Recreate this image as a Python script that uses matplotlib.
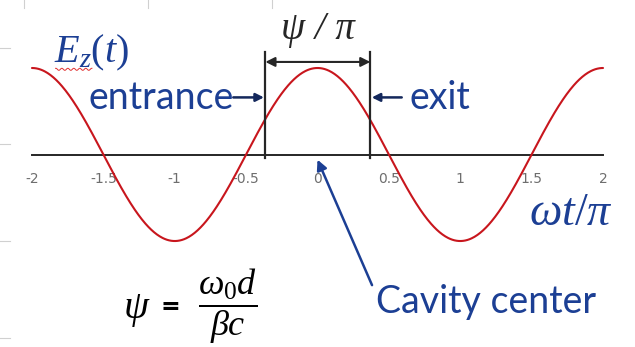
import numpy as np
import matplotlib
matplotlib.use("Agg")
import matplotlib.pyplot as plt
from matplotlib.lines import Line2D

plt.rcParams["mathtext.fontset"] = "custom"
plt.rcParams["mathtext.rm"] = "Liberation Serif"
plt.rcParams["mathtext.it"] = "Liberation Serif:italic"
plt.rcParams["mathtext.bf"] = "Liberation Serif:bold"

# Phase axis (omega t / pi) and the tick values shown along it
tick_values = [-2, -1.5, -1, -0.5, 0, 0.5, 1, 1.5, 2]
tick_labels = ["-2", "-1.5", "-1", "-0.5", "0", "0.5", "1", "1.5", "2"]
phase = np.linspace(-2, 2, 801)
field = np.cos(np.pi * phase)          # E_z(t), normalised amplitude

# Gap edges (in units of omega t / pi) where the particle enters and leaves
entrance_pos = -0.365
exit_pos = 0.37
cavity_center = 0.0

RED = "#C8161D"
BLUE = "#1C3F94"
NAVY = "#14285C"
DARK = "#262626"
TICK_GRAY = "#6E6E6E"

fig = plt.figure(figsize=(6.35, 3.47), dpi=100)
ax = fig.add_axes([0, 0, 1, 1])
ax.set_xlim(-2.224, 2.224)
ax.set_ylim(-2.225, 1.786)

# Field curve
ax.plot(phase, field, color=RED, lw=1.5, solid_capstyle="round", zorder=3)

# Horizontal axis through zero
for side in ("left", "right", "top"):
    ax.spines[side].set_visible(False)
ax.spines["bottom"].set_position(("data", 0))
ax.spines["bottom"].set_bounds(tick_values[0], tick_values[-1])
ax.spines["bottom"].set_linewidth(1.4)
ax.spines["bottom"].set_color(DARK)
ax.set_xticks(tick_values)
ax.set_xticklabels(tick_labels)
ax.tick_params(axis="x", length=0, pad=12.5, labelsize=10, labelcolor=TICK_GRAY)
ax.set_yticks([])

# Gap boundaries
for xe in (entrance_pos, exit_pos):
    ax.plot([xe, xe], [-0.04, 1.185], color=DARK, lw=1.6, zorder=4)

# Gap width arrow and label
ax.annotate("", xy=(entrance_pos, 1.07), xytext=(exit_pos, 1.07),
            arrowprops=dict(arrowstyle="<|-|>", color=DARK, lw=1.5,
                            mutation_scale=14, shrinkA=0, shrinkB=0))
ax.text((entrance_pos + exit_pos) / 2, 1.45, "ψ / π", fontsize=28,
        family="Liberation Serif", style="italic", color=DARK,
        ha="center", va="center")

# Entrance / exit labels
ax.text(-0.585, 0.65, "entrance", fontsize=27, family="Lato", color=BLUE,
        ha="right", va="center")
ax.annotate("", xy=(entrance_pos - 0.01, 0.66), xytext=(-0.59, 0.66),
            arrowprops=dict(arrowstyle="-|>", color=NAVY, lw=1.8,
                            mutation_scale=12, shrinkA=0, shrinkB=0))
ax.text(0.645, 0.65, "exit", fontsize=27, family="Lato", color=BLUE,
        ha="left", va="center")
ax.annotate("", xy=(exit_pos + 0.01, 0.66), xytext=(0.59, 0.66),
            arrowprops=dict(arrowstyle="-|>", color=NAVY, lw=1.8,
                            mutation_scale=12, shrinkA=0, shrinkB=0))

# Field label with spell-check style squiggle
ax.text(-1.845, 1.17, r"$E_z(t)$", fontsize=29, color=BLUE,
        ha="left", va="center")
sq_x = np.linspace(-1.835, -1.58, 60)
ax.plot(sq_x, 0.985 + 0.012 * np.sin(sq_x * 150), color="#E03030", lw=0.7)

# Axis label
ax.text(1.776, -0.676, r"$\omega t/\pi$", fontsize=33, color=BLUE,
        ha="center", va="center")

# Cavity centre pointer
ax.text(1.18, -1.705, "Cavity center", fontsize=27, family="Lato", color=BLUE,
        ha="center", va="center")
ax.annotate("", xy=(cavity_center, -0.06), xytext=(0.382, -1.51),
            arrowprops=dict(arrowstyle="-|>", color=BLUE, lw=1.8,
                            mutation_scale=15, shrinkA=0, shrinkB=0))

# Transit phase formula
ax.text(-1.264, -1.78, r"$\psi$", fontsize=29, color="black",
        ha="center", va="center")
ax.text(-1.03, -1.76, "=", fontsize=17, family="DejaVu Sans", weight="bold",
        color="black", ha="center", va="center")
ax.text(-0.627, -1.75, r"$\dfrac{\omega_0 d}{\beta c}$", fontsize=26,
        color="black", ha="center", va="center")

# Faint sheet gridline fragments around the border
W, H = 635.0, 347.0
for px in (24, 148, 272):
    fig.add_artist(Line2D([px / W, px / W], [1, 1 - 8 / H], color="#D0D0D0", lw=0.8))
for py in (48, 144, 241, 338):
    fig.add_artist(Line2D([0, 10 / W], [1 - py / H, 1 - py / H], color="#D0D0D0", lw=0.8))

fig.savefig("out.png", dpi=100)
